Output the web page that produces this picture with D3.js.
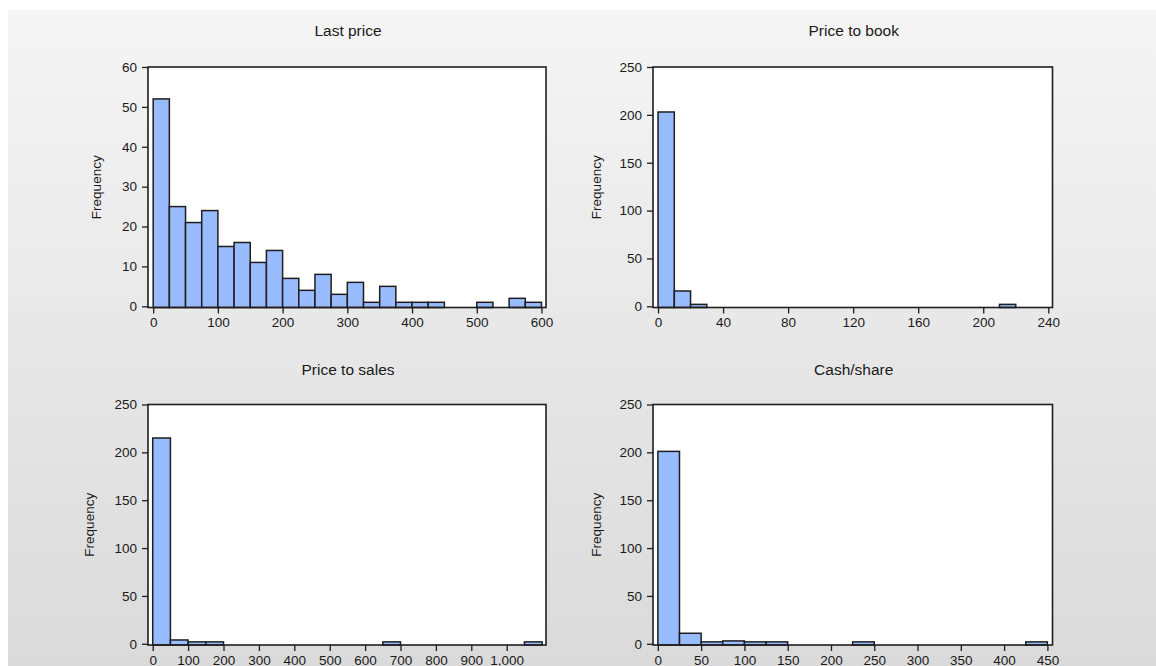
<!DOCTYPE html>
<html>
<head>
<meta charset="utf-8">
<script src="https://cdn.jsdelivr.net/npm/d3@7"></script>
<style>
  html, body { margin: 0; padding: 0; background: #ffffff; }
  svg { display: block; }
  text { font-family: "Liberation Sans", Arial, sans-serif; fill: #1a1a1a; }
</style>
</head>
<body>
<svg id="chart" width="1156" height="666"></svg>
<script>
// Histogram counts per variable (bins start at 0, fixed bin width)
const lastPriceCounts = [52, 25, 21, 24, 15, 16, 11, 14, 7, 4, 8, 3, 6, 1, 5, 1, 1, 1, 0, 0, 1, 0, 2, 1];
const priceToBookCounts = [203, 16, 2, 0, 0, 0, 0, 0, 0, 0, 0, 0, 0, 0, 0, 0, 0, 0, 0, 0, 0, 2, 0, 0];
const priceToSalesCounts = [215, 4, 2, 2, 0, 0, 0, 0, 0, 0, 0, 0, 0, 2, 0, 0, 0, 0, 0, 0, 0, 2];
const cashShareCounts = [201, 11, 2, 3, 2, 2, 0, 0, 0, 2, 0, 0, 0, 0, 0, 0, 0, 2];

const binWidths = [25, 10, 50, 25];
const titles = ["Last price", "Price to book", "Price to sales", "Cash/share"];

// Axis tick values
const lastPriceXTicks = [0, 100, 200, 300, 400, 500, 600];
const priceToBookXTicks = [0, 40, 80, 120, 160, 200, 240];
const priceToSalesXTicks = [0, 100, 200, 300, 400, 500, 600, 700, 800, 900, 1000];
const cashShareXTicks = [0, 50, 100, 150, 200, 250, 300, 350, 400, 450];
const lastPriceYTicks = [0, 10, 20, 30, 40, 50, 60];
const frequencyYTicks = [0, 50, 100, 150, 200, 250];

const svg = d3.select("#chart");

// Grey panel with vertical gradient
const defs = svg.append("defs");
const grad = defs.append("linearGradient").attr("id", "bg").attr("x1", 0).attr("y1", 0).attr("x2", 0).attr("y2", 1);
grad.append("stop").attr("offset", "0%").attr("stop-color", "#f5f5f5");
grad.append("stop").attr("offset", "100%").attr("stop-color", "#dadada");
svg.append("rect").attr("x", 8).attr("y", 10).attr("width", 1148).attr("height", 656).attr("fill", "url(#bg)");

const panels = [
  { counts: lastPriceCounts, bw: binWidths[0], title: titles[0], xTicks: lastPriceXTicks, yTicks: lastPriceYTicks,
    xDomain: [-8, 607], yMax: 60, box: { l: 148, r: 546, t: 67, b: 307.5 }, titleY: 36, freqX: 96 },
  { counts: priceToBookCounts, bw: binWidths[1], title: titles[1], xTicks: priceToBookXTicks, yTicks: frequencyYTicks,
    xDomain: [-3.1, 242.6], yMax: 250, box: { l: 653, r: 1052.5, t: 67, b: 307.5 }, titleY: 36, freqX: 596 },
  { counts: priceToSalesCounts, bw: binWidths[2], title: titles[2], xTicks: priceToSalesXTicks, yTicks: frequencyYTicks,
    xDomain: [-13.3, 1111], yMax: 250, box: { l: 148, r: 546, t: 404.5, b: 645 }, titleY: 375, freqX: 89 },
  { counts: cashShareCounts, bw: binWidths[3], title: titles[3], xTicks: cashShareXTicks, yTicks: frequencyYTicks,
    xDomain: [-5.6, 455.9], yMax: 250, box: { l: 653, r: 1052.5, t: 404.5, b: 645 }, titleY: 375, freqX: 596 }
];

const fmt = d3.format(",");

panels.forEach(p => {
  const { l, r, t, b } = p.box;
  const x = d3.scaleLinear().domain(p.xDomain).range([l, r]);
  const y = d3.scaleLinear().domain([0, p.yMax]).range([b - 1.2, t]);
  const g = svg.append("g");

  // Plot area
  g.append("rect").attr("x", l).attr("y", t).attr("width", r - l).attr("height", b - t).attr("fill", "#ffffff");

  // Bars
  const bins = p.counts.map((c, i) => ({ x0: i * p.bw, x1: (i + 1) * p.bw, c })).filter(d => d.c > 0);
  g.selectAll("rect.bar").data(bins).join("rect")
    .attr("class", "bar")
    .attr("x", d => x(d.x0))
    .attr("width", d => x(d.x1) - x(d.x0))
    .attr("y", d => y(d.c))
    .attr("height", d => y(0) - y(d.c) + 1.2)
    .attr("fill", "#99bbff")
    .attr("stroke", "#1e1e1e")
    .attr("stroke-width", 1.5);

  // Frame
  g.append("rect").attr("x", l).attr("y", t).attr("width", r - l).attr("height", b - t)
    .attr("fill", "none").attr("stroke", "#1e1e1e").attr("stroke-width", 1.6);

  // Left axis
  const yAxis = g.append("g").attr("transform", `translate(${l},0)`)
    .call(d3.axisLeft(y).tickValues(p.yTicks).tickSize(6).tickPadding(5).tickFormat(fmt));
  yAxis.select(".domain").remove();
  yAxis.selectAll("line").attr("stroke", "#1e1e1e").attr("stroke-width", 1.3);
  yAxis.selectAll("text").attr("font-size", 13.5).attr("font-family", "Liberation Sans, Arial, sans-serif").attr("fill", "#1a1a1a");

  // Bottom axis
  const xAxis = g.append("g").attr("transform", `translate(0,${b})`)
    .call(d3.axisBottom(x).tickValues(p.xTicks).tickSize(6).tickPadding(4).tickFormat(fmt));
  xAxis.select(".domain").remove();
  xAxis.selectAll("line").attr("stroke", "#1e1e1e").attr("stroke-width", 1.3);
  xAxis.selectAll("text").attr("font-size", 13.5).attr("font-family", "Liberation Sans, Arial, sans-serif").attr("fill", "#1a1a1a");

  // Title
  g.append("text").attr("x", (l + r) / 2 + 1).attr("y", p.titleY).attr("text-anchor", "middle")
    .attr("font-size", 15.5).text(p.title);

  // Y label
  g.append("text").attr("transform", `translate(${p.freqX},${(t + b) / 2}) rotate(-90)`)
    .attr("text-anchor", "middle").attr("dy", "0.35em").attr("font-size", 13.5).text("Frequency");
});
</script>
</body>
</html>
